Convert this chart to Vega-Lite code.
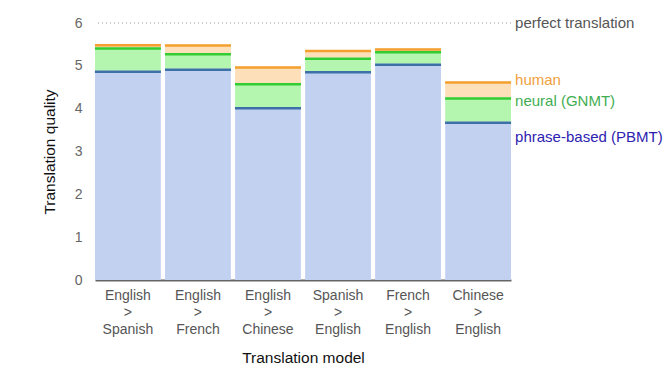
{
  "$schema": "https://vega.github.io/schema/vega-lite/v6.json",
  "width": 416,
  "height": 257,
  "autosize": {"type": "none"},
  "padding": {"left": 95, "top": 23, "right": 159, "bottom": 93},
  "background": "white",
  "config": {
    "view": {"stroke": null},
    "font": "Liberation Sans",
    "axis": {"labelFont": "Liberation Sans", "titleFont": "Liberation Sans"},
    "text": {"font": "Liberation Sans"}
  },
  "datasets": {
    "scores": [
      {"model": "English > Spanish", "pbmt": 4.885, "gnmt": 5.428, "human": 5.504},
      {"model": "English > French", "pbmt": 4.932, "gnmt": 5.295, "human": 5.496},
      {"model": "English > Chinese", "pbmt": 4.035, "gnmt": 4.594, "human": 4.987},
      {"model": "Spanish > English", "pbmt": 4.872, "gnmt": 5.187, "human": 5.372},
      {"model": "French > English", "pbmt": 5.046, "gnmt": 5.343, "human": 5.404},
      {"model": "Chinese > English", "pbmt": 3.694, "gnmt": 4.263, "human": 4.636}
    ],
    "labels": [
      {"model": "Chinese > English", "text": "perfect translation", "value": 6.0, "series": "perfect"},
      {"model": "Chinese > English", "text": "human", "value": 4.68, "series": "human"},
      {"model": "Chinese > English", "text": "neural (GNMT)", "value": 4.19, "series": "gnmt"},
      {"model": "Chinese > English", "text": "phrase-based (PBMT)", "value": 3.33, "series": "pbmt"}
    ]
  },
  "data": {"name": "scores"},
  "encoding": {
    "x": {
      "field": "model",
      "type": "nominal",
      "sort": null,
      "scale": {"paddingInner": 0.06, "paddingOuter": 0},
      "axis": {
        "title": "Translation model",
        "titleFontSize": 15.5,
        "titleFontWeight": "normal",
        "titleColor": "#111",
        "titlePadding": 14,
        "labelAngle": 0,
        "labelExpr": "split(datum.label, ' ')",
        "labelFontSize": 14,
        "labelColor": "#555",
        "labelLineHeight": 17,
        "labelPadding": 8,
        "ticks": false,
        "domainColor": "#666",
        "domainWidth": 2
      }
    }
  },
  "layer": [
    {
      "mark": {"type": "bar", "color": "#c3d1f0", "width": {"band": 1}},
      "encoding": {
        "y": {
          "field": "pbmt",
          "type": "quantitative",
          "scale": {"domain": [0, 6], "nice": false},
          "axis": {
            "title": "Translation quality",
            "titleFontSize": 15.5,
            "titleFontWeight": "normal",
            "titleColor": "#111",
            "titlePadding": 17,
            "values": [0, 1, 2, 3, 4, 5, 6],
            "labelFontSize": 14,
            "labelColor": "#666",
            "labelPadding": 13,
            "ticks": false,
            "domain": false,
            "grid": false
          }
        },
        "y2": {"datum": 0}
      }
    },
    {
      "mark": {"type": "bar", "color": "#b4f5b0"},
      "encoding": {
        "y": {"field": "gnmt", "type": "quantitative"},
        "y2": {"field": "pbmt"}
      }
    },
    {
      "mark": {"type": "bar", "color": "#fde0ba"},
      "encoding": {
        "y": {"field": "human", "type": "quantitative"},
        "y2": {"field": "gnmt"}
      }
    },
    {
      "mark": {"type": "tick", "color": "#3d6fa8", "size": 66, "thickness": 2.5, "yOffset": 1, "opacity": 1},
      "encoding": {"y": {"field": "pbmt", "type": "quantitative"}}
    },
    {
      "mark": {"type": "tick", "color": "#33cc33", "size": 66, "thickness": 2.5, "yOffset": 1, "opacity": 1},
      "encoding": {"y": {"field": "gnmt", "type": "quantitative"}}
    },
    {
      "mark": {"type": "tick", "color": "#f3a030", "size": 66, "thickness": 2.5, "yOffset": 1, "opacity": 1},
      "encoding": {"y": {"field": "human", "type": "quantitative"}}
    },
    {
      "data": {"values": [{"v": 6}]},
      "mark": {"type": "rule", "color": "#999", "strokeDash": [1, 3], "strokeWidth": 1},
      "encoding": {"y": {"field": "v", "type": "quantitative"}, "x": null}
    },
    {
      "data": {"name": "labels"},
      "mark": {"type": "text", "align": "left", "baseline": "middle", "fontSize": 15, "dx": 37},
      "encoding": {
        "y": {"field": "value", "type": "quantitative"},
        "text": {"field": "text"},
        "color": {
          "field": "series",
          "type": "nominal",
          "scale": {
            "domain": ["perfect", "human", "gnmt", "pbmt"],
            "range": ["#555555", "#f0a040", "#3fae52", "#2d22b0"]
          },
          "legend": null
        }
      }
    }
  ]
}
